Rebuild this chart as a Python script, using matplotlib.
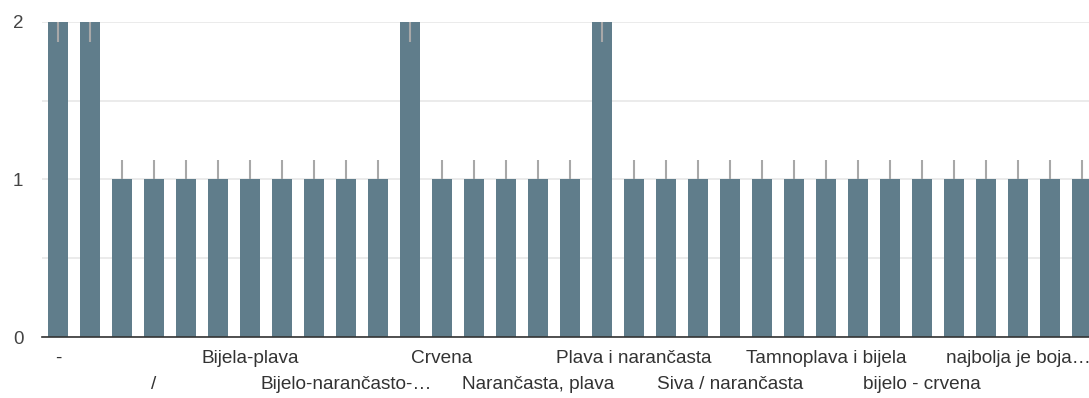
import matplotlib.pyplot as plt

# counts per answer (only every third category name is shown on the axis)
values = [2, 2, 1, 1, 1, 1, 1, 1, 1, 1, 1, 2, 1, 1, 1, 1, 1, 2,
          1, 1, 1, 1, 1, 1, 1, 1, 1, 1, 1, 1, 1, 1, 1]
err_low = [0.125, 0.125, 0, 0, 0, 0, 0, 0, 0, 0, 0, 0.125, 0, 0, 0, 0, 0, 0.125,
           0, 0, 0, 0, 0, 0, 0, 0, 0, 0, 0, 0, 0, 0, 0]
err_high = [0, 0, 0.125, 0.125, 0.125, 0.125, 0.125, 0.125, 0.125, 0.125, 0.125, 0, 0.125, 0.125, 0.125, 0.125, 0.125, 0,
            0.125, 0.125, 0.125, 0.125, 0.125, 0.125, 0.125, 0.125, 0.125, 0.125, 0.125, 0.125, 0.125, 0.125, 0.125]

row1_pos = [0, 6, 12, 18, 24, 30]
row1_labels = ['-', 'Bijela-plava', 'Crvena', 'Plava i narančasta',
               'Tamnoplava i bijela', 'najbolja je boja…']
row2_pos = [3, 9, 15, 21, 27]
row2_labels = ['/', 'Bijelo-narančasto-…', 'Narančasta, plava',
               'Siva / narančasta', 'bijelo - crvena']

plt.rcParams['font.family'] = ['Liberation Sans', 'DejaVu Sans']

fig = plt.figure(figsize=(10.89, 3.98), dpi=100)
ax = fig.add_axes([42 / 1089, 1 - 337 / 398, 1 - 42 / 1089, 315 / 398])

x = list(range(len(values)))
ax.bar(x, values, width=0.63, color='#607d8b', zorder=2)
ax.errorbar(x, values, yerr=[err_low, err_high], fmt='none',
            ecolor='#a8a8a8', elinewidth=1.5, capsize=0, zorder=3)

ax.set_xlim(-0.5, 32.22)
ax.set_ylim(0, 2)
ax.set_yticks([0, 1, 2])
ax.set_yticks([0.5, 1.5], minor=True)
ax.grid(axis='y', which='both', color='#e8e8e8', linewidth=1.2, zorder=0)
ax.set_axisbelow(True)

ax.set_xticks(row1_pos, row1_labels)
ax.set_xticks(row2_pos, row2_labels, minor=True)
ax.tick_params(axis='x', which='major', length=0, pad=9.5, labelsize=13.7, labelcolor='#333333')
ax.tick_params(axis='x', which='minor', length=0, pad=28, labelsize=13.7, labelcolor='#333333')
ax.tick_params(axis='y', which='both', length=0, pad=21, labelsize=13.5, labelcolor='#444444')
for t in ax.get_yticklabels():
    t.set_horizontalalignment('left')

for s in ['top', 'right', 'left']:
    ax.spines[s].set_visible(False)
ax.spines['bottom'].set_color('#333333')
ax.spines['bottom'].set_linewidth(1.2)
ax.spines['bottom'].set_zorder(4)

fig.savefig('out.png', dpi=100)
